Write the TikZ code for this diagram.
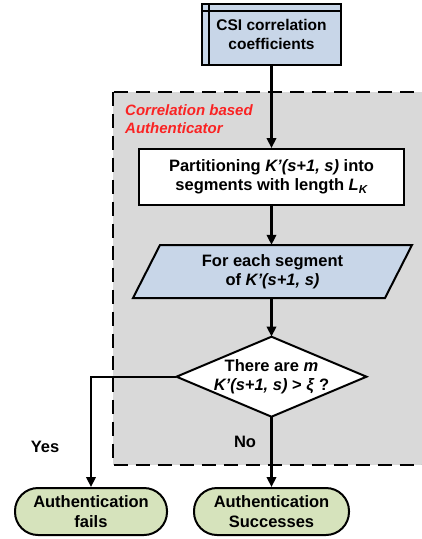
\documentclass[tikz,border=0pt]{standalone}
\usepackage{fontspec}
\setmainfont{Liberation Sans}
\usetikzlibrary{arrows.meta}

\definecolor{csiblue}{RGB}{200,214,232}
\definecolor{termgreen}{RGB}{214,227,188}
\definecolor{regiongray}{RGB}{217,217,217}
\definecolor{labelred}{RGB}{250,35,35}

\begin{document}
\begin{tikzpicture}[x=1pt, y=-1pt, >={Triangle[length=10pt,width=9.5pt]},
    txt/.style={font=\fontsize{16.5}{19.5}\selectfont\bfseries, align=center, inner sep=0pt},
    box/.style={txt, draw, line width=2pt},
    term/.style={box, fill=termgreen, rounded corners=23pt, minimum height=47pt},
    arr/.style={->, line width=2.2pt}]
    \useasboundingbox (0,0) rectangle (422,539);

    % ==== AUTHENTICATOR REGION ====
    \draw[fill=regiongray, dashed, dash pattern=on 14pt off 8pt, line width=2pt]
        (113,91.7) rectangle (440,465);
    \node[txt, anchor=north west, align=left, text=labelred,
          font=\fontsize{15}{18.7}\selectfont\bfseries\itshape] (region) at (125,104)
        {Correlation based\\Authenticator};

    % ==== INPUT ====
    \node[box, fill=csiblue, minimum width=139pt, minimum height=61pt,
          font=\fontsize{15.5}{18.5}\selectfont\bfseries] (csi) at (271.5,34.5)
        {CSI correlation\\coefficients};
    \draw[line width=2pt] ([xshift=8.3pt]csi.north west) -- ([xshift=8.3pt]csi.south west);
    \draw[line width=2pt] ([yshift=-7.7pt]csi.north west) -- ([yshift=-7.7pt]csi.north east);

    % ==== PARTITIONING ====
    \node[box, fill=white, minimum width=265pt, minimum height=56pt] (part) at (271.5,177)
        {Partitioning \textit{K'(s+1, s)} into\\segments with length \textit{L\textsubscript{K}}};

    % ==== FOR EACH SEGMENT ====
    \draw[fill=csiblue, line width=2pt]
        (160,245) -- (412,245) -- (385,298) -- (133,298) -- cycle;
    \node[txt, minimum width=225pt, minimum height=53pt] (seg) at (272.5,271.5)
        {For each segment\\of \textit{K'(s+1, s)}};

    % ==== DECISION ====
    \draw[fill=white, line width=2pt]
        (271.5,336.7) -- (366.5,376.7) -- (271.5,416.7) -- (176.5,376.7) -- cycle;
    \node[txt, minimum width=190pt, minimum height=80pt] (test) at (271.5,376.7)
        {There are \textit{m}\\\textit{K'(s+1, s)} > \textit{ξ} ?};

    % ==== OUTCOMES ====
    \node[term, minimum width=152pt] (fail) at (91,511.5) {Authentication\\fails};
    \node[term, minimum width=155pt] (succ) at (271.5,511.5) {Authentication\\Successes};

    % === CONNECTORS ===
    \draw[arr] (csi) -- (part);
    \draw[arr] (part.south) -- (part.south |- seg.north);
    \draw[arr] (seg.south -| test.north) -- (test.north);
    \draw[arr] (test.west) -| (fail.north);
    \draw[arr] (test.south) -- (succ.north);

    % === LABELS ===
    \node[txt] (yes) at (45,447) {Yes};
    \node[txt] (no) at (245,442) {No};
\end{tikzpicture}
\end{document}
